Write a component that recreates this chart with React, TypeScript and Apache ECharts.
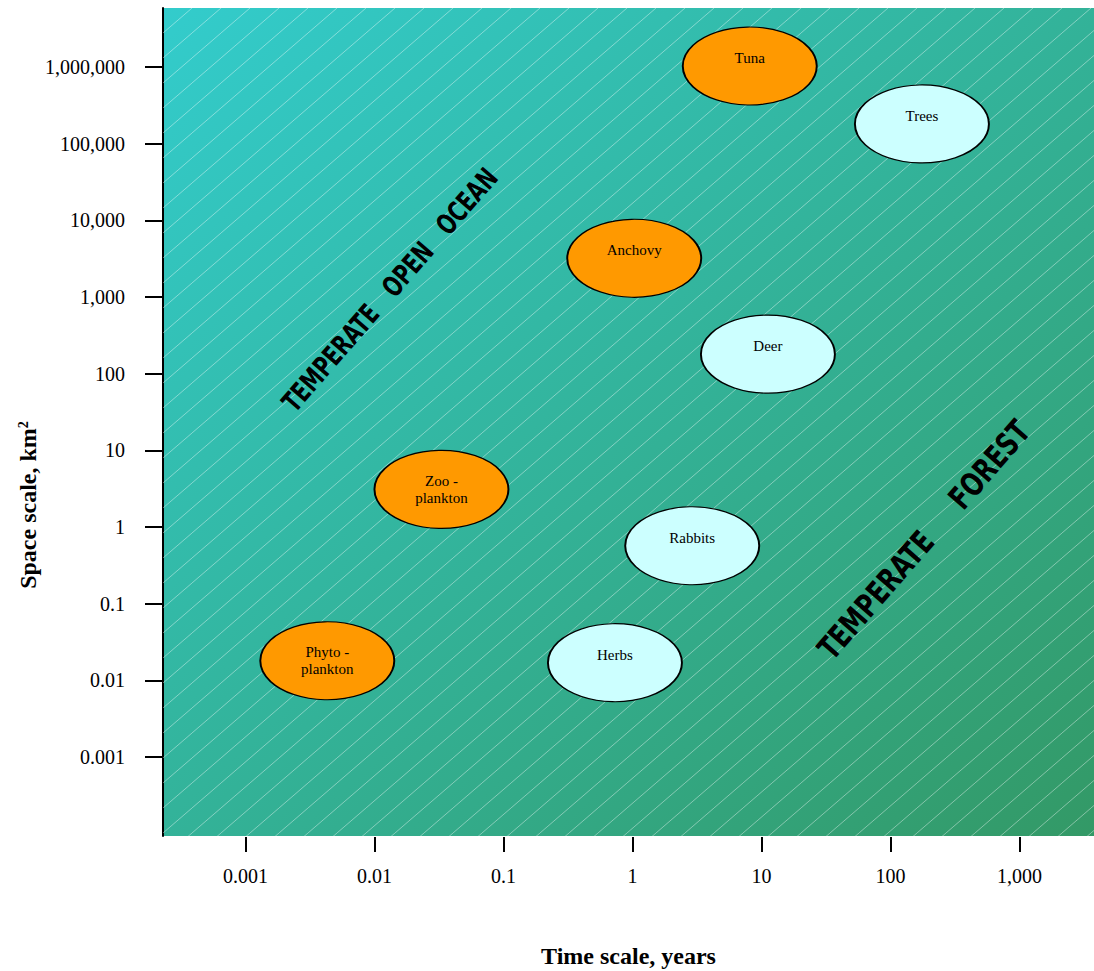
import React, { useEffect, useRef } from 'react';
import * as echarts from 'echarts';

// ---- data ----
const organisms = ['Phyto -\nplankton', 'Zoo -\nplankton', 'Herbs', 'Rabbits', 'Anchovy', 'Deer', 'Tuna', 'Trees'];
const timeYears = [0.0043, 0.033, 0.73, 2.9, 1.03, 11.2, 8.1, 175];
const spaceKm2 = [0.018, 3.1, 0.017, 0.57, 3200, 180, 1030000, 181000];
const habitat = ['ocean', 'ocean', 'forest', 'forest', 'ocean', 'forest', 'ocean', 'forest'];

const timeTicks = [0.001, 0.01, 0.1, 1, 10, 100, 1000];
const timeTickLabels = ['0.001', '0.01', '0.1', '1', '10', '100', '1,000'];
const spaceTicks = [0.001, 0.01, 0.1, 1, 10, 100, 1000, 10000, 100000, 1000000];
const spaceTickLabels = ['0.001', '0.01', '0.1', '1', '10', '100', '1,000', '10,000', '100,000', '1,000,000'];

const regionLabels = ['TEMPERATE   OPEN   OCEAN', 'TEMPERATE     FOREST'];
const xTitle = 'Time scale, years';
const yTitle = 'Space scale, km';

const habitatColor: Record<string, string> = { ocean: '#FF9900', forest: '#CCFFFF' };

const SERIF = "'Liberation Serif', 'Times New Roman', serif";
const NARROW = "'DejaVu Sans Condensed', 'Liberation Sans Narrow', sans-serif";

function makeFormatter(ticks: number[], labels: string[]) {
  return (v: number) => {
    const i = ticks.findIndex((t) => Math.abs(t - v) <= t * 1e-6);
    return i >= 0 ? labels[i] : '';
  };
}

function makeHatch(): HTMLCanvasElement {
  const W = 29;
  const H = 25;
  const c = document.createElement('canvas');
  c.width = W;
  c.height = H;
  const ctx = c.getContext('2d')!;
  ctx.strokeStyle = 'rgba(255,255,255,0.4)';
  ctx.lineWidth = 1;
  ctx.beginPath();
  ctx.moveTo(-1, H + H / W);
  ctx.lineTo(W + 1, -H / W);
  ctx.stroke();
  return c;
}

export default function App() {
  const ref = useRef<HTMLDivElement>(null);

  useEffect(() => {
    if (!ref.current) return;
    const chart = echarts.init(ref.current, undefined, { renderer: 'svg' });

    const gridLeft = 163;
    const gridTop = 8;
    const gridRight = 0;
    const gridBottom = 135;
    const gridW = 1094 - gridLeft - gridRight;
    const gridH = 971 - gridTop - gridBottom;

    const data = organisms.map((name, i) => ({
      name,
      value: [timeYears[i], spaceKm2[i]],
      itemStyle: { color: habitatColor[habitat[i]] },
      label: { offset: name.includes('\n') ? [0, 0] : [0, -8] },
    }));

    const option: any = {
      animation: false,
      backgroundColor: '#ffffff',
      grid: {
        left: gridLeft,
        top: gridTop,
        right: gridRight,
        bottom: gridBottom,
        containLabel: false,
        outerBoundsMode: 'none',
        show: true,
        borderWidth: 0,
        backgroundColor: new echarts.graphic.LinearGradient(0, 0, 1, 1, [
          { offset: 0, color: '#33CCCC' },
          { offset: 1, color: '#339966' },
        ]),
      },
      xAxis: {
        type: 'log',
        logBase: 10,
        min: Math.pow(10, -3.64),
        max: Math.pow(10, 3.577),
        offset: 1,
        axisLine: { show: false, onZero: false },
        axisTick: {
          show: true,
          length: 15,
          customValues: timeTicks,
          lineStyle: { color: '#000', width: 2 },
        },
        axisLabel: {
          show: true,
          customValues: timeTicks,
          formatter: makeFormatter(timeTicks, timeTickLabels),
          margin: 29,
          fontFamily: SERIF,
          fontSize: 20,
          color: '#000',
        },
        splitLine: { show: false },
        minorTick: { show: false },
        minorSplitLine: { show: false },
        name: xTitle,
        nameLocation: 'middle',
        nameGap: 107,
        nameTextStyle: {
          fontFamily: SERIF,
          fontSize: 24,
          fontWeight: 'bold',
          color: '#000',
        },
      },
      yAxis: {
        type: 'log',
        logBase: 10,
        min: Math.pow(10, -4.03),
        max: Math.pow(10, 6.77),
        axisLine: { show: true, onZero: false, lineStyle: { color: '#000', width: 2 } },
        axisTick: {
          show: true,
          length: 18,
          customValues: spaceTicks,
          lineStyle: { color: '#000', width: 2 },
        },
        axisLabel: {
          show: true,
          customValues: spaceTicks,
          formatter: makeFormatter(spaceTicks, spaceTickLabels),
          margin: 38,
          fontFamily: SERIF,
          fontSize: 20,
          color: '#000',
          padding: [7, 0, 0, 0],
        },
        splitLine: { show: false },
        minorTick: { show: false },
        minorSplitLine: { show: false },
      },
      graphic: [
        {
          type: 'rect',
          left: gridLeft,
          top: gridTop,
          z: 1,
          silent: true,
          shape: { width: gridW, height: gridH },
          style: { fill: { image: makeHatch(), repeat: 'repeat' } },
        },
        {
          type: 'text',
          x: 390,
          y: 290,
          rotation: (49 * Math.PI) / 180,
          scaleX: 0.79,
          z: 3,
          silent: true,
          style: {
            text: regionLabels[0],
            fontFamily: NARROW,
            fontWeight: 'bold',
            fontSize: 28,
            fill: '#000',
            textAlign: 'center',
            textVerticalAlign: 'middle',
          },
        },
        {
          type: 'text',
          x: 924,
          y: 540,
          rotation: (49 * Math.PI) / 180,
          scaleX: 0.83,
          z: 3,
          silent: true,
          style: {
            text: regionLabels[1],
            fontFamily: NARROW,
            fontWeight: 'bold',
            fontSize: 32,
            fill: '#000',
            textAlign: 'center',
            textVerticalAlign: 'middle',
          },
        },
        {
          type: 'text',
          x: 28,
          y: 505,
          rotation: Math.PI / 2,
          z: 3,
          silent: true,
          style: {
            text: yTitle + '{sup|2}',
            fontFamily: SERIF,
            fontWeight: 'bold',
            fontSize: 24,
            fill: '#000',
            textAlign: 'center',
            textVerticalAlign: 'middle',
            rich: {
              sup: {
                fontFamily: SERIF,
                fontWeight: 'bold',
                fontSize: 14,
                fill: '#000',
                verticalAlign: 'top',
              },
            },
          },
        },
      ],
      series: [
        {
          type: 'scatter',
          data,
          symbol: 'circle',
          symbolSize: [134, 78],
          z: 4,
          clip: false,
          itemStyle: { borderColor: '#000', borderWidth: 1.5, opacity: 1 },
          label: {
            show: true,
            position: 'inside',
            formatter: '{b}',
            fontFamily: SERIF,
            fontSize: 15,
            lineHeight: 17,
            color: '#000',
          },
          emphasis: { disabled: true },
        },
      ],
    };

    chart.setOption(option);
    return () => chart.dispose();
  }, []);

  return (
    <div
      ref={ref}
      style={{ position: 'absolute', left: 0, top: 0, width: 1094, height: 971 }}
    />
  );
}
